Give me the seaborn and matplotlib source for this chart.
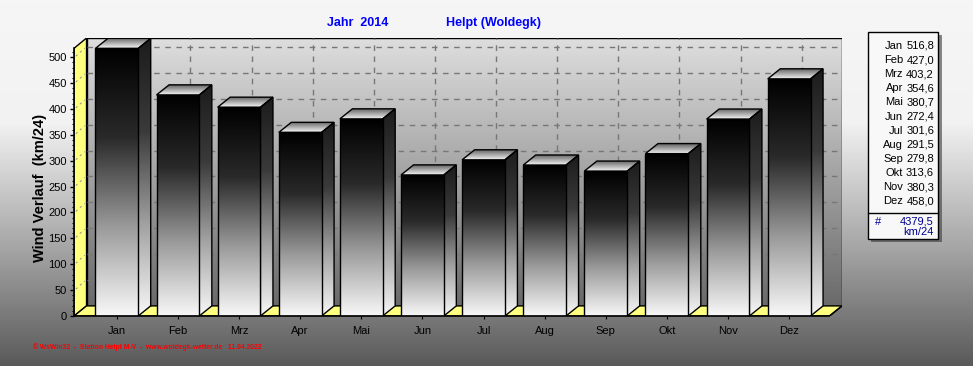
import numpy as np
import matplotlib
matplotlib.use("Agg")
import matplotlib.pyplot as plt
import seaborn as sns
import pandas as pd
from matplotlib.patches import Polygon, Rectangle
from matplotlib.colors import LinearSegmentedColormap

# ---------------------------------------------------------------- data
months = ["Jan", "Feb", "Mrz", "Apr", "Mai", "Jun", "Jul", "Aug", "Sep", "Okt", "Nov", "Dez"]
wind = [516.8, 427.0, 403.2, 354.6, 380.7, 272.4, 301.6, 291.5, 279.8, 313.6, 380.3, 458.0]
y_ticks = list(range(0, 501, 50))
total_text = "4379,5"
unit_text = "km/24"
title_year = "Jahr  2014"
title_station = "Helpt (Woldegk)"
footer = "\u00a9 WsWin32  -  Station Helpt M-V  -  www.woldegk-wetter.de   11.04.2022"

sns.set_style("white")
plt.rcParams["font.family"] = ["Liberation Sans", "DejaVu Sans"]

W, H = 973, 366
fig = plt.figure(figsize=(W / 100, H / 100), dpi=100)

# 3d depth in data units
DX = 0.205
DY = 19.5
X0, X1 = -0.70, 11.66
FRONT_TOP = 517
YTOP = 537


def grad(ax, verts, colors, y0, y1, z, edge="black"):
    poly = Polygon(verts, closed=True, facecolor="none", edgecolor=edge, lw=1, zorder=z + 0.1)
    ax.add_patch(poly)
    xs = [v[0] for v in verts]
    cmap = LinearSegmentedColormap.from_list("g", colors)
    im = ax.imshow(np.linspace(0, 1, 256).reshape(-1, 1), cmap=cmap,
                   extent=(min(xs), max(xs), y0, y1), origin="upper",
                   aspect="auto", zorder=z, interpolation="bilinear")
    im.set_clip_path(poly)
    return poly


# ---------------------------------------------------------------- background
bg = fig.add_axes([0, 0, 1, 1], zorder=-10)
bg_cmap = LinearSegmentedColormap.from_list("bg", ["#f6f6f6", "#f2f2f2", "#a8a8a8", "#5a5a5a"])
bg.imshow(np.linspace(0, 1, 366).reshape(-1, 1), cmap=bg_cmap, aspect="auto",
          extent=(0, 1, 0, 1), origin="upper")
bg.set_axis_off()

# ---------------------------------------------------------------- main axes
ax = fig.add_axes([74 / W, (H - 316) / H, 768 / W, 278 / H])
ax.set_facecolor("none")

df = pd.DataFrame({"Monat": months, "Wind": wind})
sns.barplot(data=df, x="Monat", y="Wind", width=0.7, color="black", ax=ax, zorder=5)

# back wall
grad(ax, [(X0 + DX, DY), (X1 + DX, DY), (X1 + DX, YTOP), (X0 + DX, YTOP)],
     ["#dedede", "#6a6a6a"], DY, YTOP, 0)
# left wall + floor
ax.add_patch(Polygon([(X0, 0), (X0 + DX, DY), (X0 + DX, YTOP), (X0, FRONT_TOP)],
                     facecolor="#ffff80", edgecolor="black", lw=1, zorder=0.5))
ax.add_patch(Polygon([(X0, 0), (X1, 0), (X1 + DX, DY), (X0 + DX, DY)],
                     facecolor="#ffff80", edgecolor="black", lw=1, zorder=0.5))

# gridlines on the walls
for v in y_ticks[1:]:
    ax.plot([X0 + DX, X1 + DX], [v + DY, v + DY], color="#777777", lw=1,
            ls=(0, (4, 4)), zorder=1)
    ax.plot([X0 + 0.03, X0 + DX - 0.03], [v + 2, v + DY - 2], color="#999999",
            lw=0.8, ls=(0, (2, 3)), zorder=1)
for i in range(len(months)):
    ax.plot([i + DX, i + DX], [DY, YTOP], color="#777777", lw=1,
            ls=(0, (4, 4)), zorder=1)

# bars with gradient faces
front_cols = ["#000000", "#2a2a2a", "#9a9a9a", "#f8f8f8"]
for i, p in enumerate(ax.patches[:len(months)]):
    x, w, h = p.get_x(), p.get_width(), p.get_height()
    p.set_facecolor("none")
    p.set_edgecolor("none")
    grad(ax, [(x + w, 0), (x + w + DX, DY), (x + w + DX, h + DY), (x + w, h)],
         ["#1c1c1c", "#3a3a3a", "#a0a0a0", "#f8f8f8"], 0, h + DY, 6 + i * 0.01)
    grad(ax, [(x, h), (x + w, h), (x + w + DX, h + DY), (x + DX, h + DY)],
         ["#5a5a5a", "#f4f4f4"], h, h + DY, 6 + i * 0.01)
    grad(ax, [(x, 0), (x + w, 0), (x + w, h), (x, h)],
         front_cols, 0, h, 6.5 + i * 0.01)

ax.set_xlim(X0, X1 + DX)
ax.set_ylim(0, YTOP)

for s in ["top", "right"]:
    ax.spines[s].set_visible(False)
ax.spines["left"].set_bounds(0, FRONT_TOP)
ax.spines["bottom"].set_bounds(X0, X1)
for s in ["left", "bottom"]:
    ax.spines[s].set_color("black")
    ax.spines[s].set_linewidth(1.2)
    ax.spines[s].set_zorder(20)
ax.plot([X1, X1 + DX], [0, DY], color="black", lw=1, zorder=20)

ax.set_yticks(y_ticks)
ax.set_yticks(range(0, 511, 10), minor=True)
ax.set_xticks(range(len(months)))
ax.set_xticklabels(months)
ax.tick_params(axis="y", which="major", length=3, width=1, pad=2, labelsize=8,
               colors="black", left=True, direction="out")
ax.tick_params(axis="y", which="minor", length=1.5, width=0.8, left=True, colors="black")
ax.tick_params(axis="x", which="major", length=2, width=0.8, pad=5, labelsize=8,
               colors="black", bottom=True, direction="out")
ax.set_xlabel("")
ax.set_ylabel("")

# ---------------------------------------------------------------- texts
fig.text(40 / W, 1 - 188 / H, "Wind Verlauf  (km/24)", rotation=90, ha="center",
         va="center", fontsize=10.5, fontweight="bold", color="black")
fig.text(358 / W, 1 - 23 / H, title_year, ha="center", va="center",
         fontsize=9, fontweight="bold", color="#0000ff")
fig.text(493 / W, 1 - 23 / H, title_station, ha="center", va="center",
         fontsize=9, fontweight="bold", color="#0000ff")
fig.text(33 / W, 1 - 347 / H, footer, ha="left", va="center", fontsize=4.9,
         fontweight="bold", color="#ff0000")

# ---------------------------------------------------------------- legend box
lg = fig.add_axes([0, 0, 1, 1], zorder=30)
lg.set_xlim(0, W)
lg.set_ylim(H, 0)
lg.set_axis_off()
lg.add_patch(Rectangle((871, 35), 71, 207, facecolor="#3a3a3a", edgecolor="none", alpha=0.6))
lg.add_patch(Rectangle((868, 32), 70, 207, facecolor="#f8f8f8", edgecolor="black", lw=1))
lg.plot([868, 938], [213, 213], color="black", lw=1)
for k, (m, v) in enumerate(zip(months, wind)):
    yy = 46 + k * 14.1
    lg.text(903, yy, m, ha="right", va="center", fontsize=8, color="black")
    lg.text(934, yy, f"{v:.1f}".replace(".", ","), ha="right", va="center",
            fontsize=8, color="black")
lg.text(878, 222, "#", ha="center", va="center", fontsize=8, color="#000090")
lg.text(934, 222, total_text, ha="right", va="center", fontsize=8, color="#000090")
lg.text(934, 232, unit_text, ha="right", va="center", fontsize=8, color="#000090")

fig.savefig("out.png", dpi=100)
